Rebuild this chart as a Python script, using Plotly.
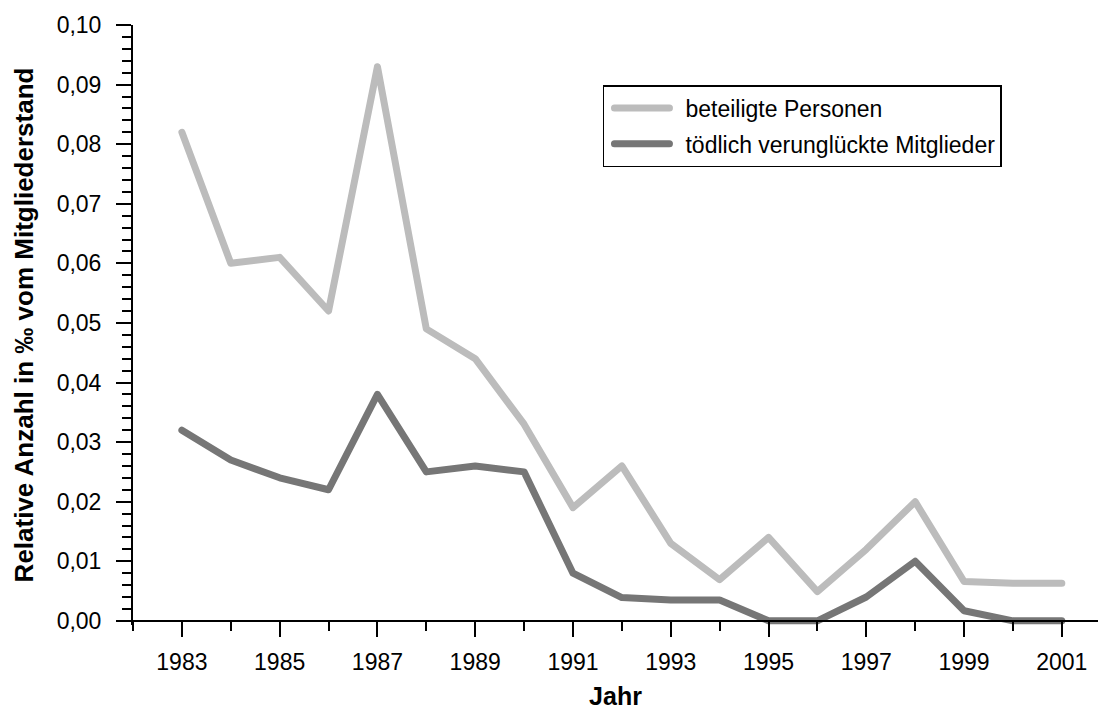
import plotly.graph_objects as go

years = list(range(1983, 2002))
beteiligte = [0.082, 0.060, 0.061, 0.052, 0.093, 0.049, 0.044, 0.033, 0.019, 0.026,
              0.013, 0.0069, 0.014, 0.0049, 0.012, 0.020, 0.0066, 0.0063, 0.0063]
toedlich = [0.032, 0.027, 0.024, 0.022, 0.038, 0.025, 0.026, 0.025, 0.008, 0.0039,
            0.0035, 0.0035, 0.0, 0.0, 0.004, 0.010, 0.0017, 0.0, 0.0]
y_ticks = [0.00, 0.01, 0.02, 0.03, 0.04, 0.05, 0.06, 0.07, 0.08, 0.09, 0.10]
series_names = ["beteiligte Personen", "tödlich verunglückte Mitglieder"]

FONT = "Liberation Sans, Arial, sans-serif"
ymin = -0.0007
ymax = 0.1

fig = go.Figure()
fig.add_trace(go.Scatter(x=years, y=beteiligte, mode="lines", name=series_names[0],
                         legendgroup="a",
                         line=dict(color="#bcbcbc", width=7)))
fig.add_trace(go.Scatter(x=years, y=toedlich, mode="lines", name=series_names[1],
                         legendgroup="b",
                         line=dict(color="#767676", width=7)))

fig.update_layout(
    width=1098, height=711,
    margin=dict(l=133, r=0, t=25, b=86),
    paper_bgcolor="white", plot_bgcolor="white",
    separators=",.",
    font=dict(family=FONT, size=23, color="black"),
    showlegend=True,
    legend=dict(x=0.487, y=0.9, xanchor="left", yanchor="top",
                bordercolor="black", borderwidth=1.5, bgcolor="white",
                font=dict(size=23, family=FONT), tracegroupgap=3,
                itemwidth=71, traceorder="grouped"),
)

fig.update_xaxes(
    range=[1982, 2001.74], anchor="free", position=(0 - ymin) / (ymax - ymin),
    showgrid=False, zeroline=False,
    showline=True, linecolor="black", linewidth=2, mirror=True,
    tickmode="linear", tick0=1983, dtick=2,
    ticks="outside", ticklen=15, tickwidth=2, tickcolor="black",
    ticklabelstandoff=6,
    tickfont=dict(size=23, family=FONT),
    minor=dict(tickmode="linear", tick0=1982, dtick=1, ticks="outside",
               ticklen=9, tickwidth=2, tickcolor="black"),
    title=dict(text="<b>Jahr</b>", font=dict(size=25, family=FONT), standoff=12),
)
fig.update_yaxes(
    range=[ymin, ymax],
    showgrid=False, zeroline=False,
    showline=True, linecolor="black", linewidth=2, mirror=False,
    tickmode="array", tickvals=y_ticks, tickformat=".2f",
    ticks="outside", ticklen=15, tickwidth=2, tickcolor="black",
    ticklabelstandoff=10,
    tickfont=dict(size=23, family=FONT),
    minor=dict(tickmode="linear", tick0=0, dtick=0.002, ticks="outside",
               ticklen=9, tickwidth=2, tickcolor="black"),
    title=dict(text="<b>Relative Anzahl in ‰ vom Mitgliederstand</b>",
               font=dict(size=26, family=FONT), standoff=16),
)

post = """
document.body.style.margin = '0';
document.querySelectorAll('.scatterlayer path.js-line').forEach(function(p){
  p.style.strokeLinejoin = 'round';
  p.style.strokeLinecap = 'round';
});
document.querySelectorAll('.legendlines path').forEach(function(p){
  p.setAttribute('d', 'M10,0h55');
  p.style.strokeLinecap = 'round';
});
"""
fig.write_html("out.html", post_script=post, config={"displayModeBar": False})
